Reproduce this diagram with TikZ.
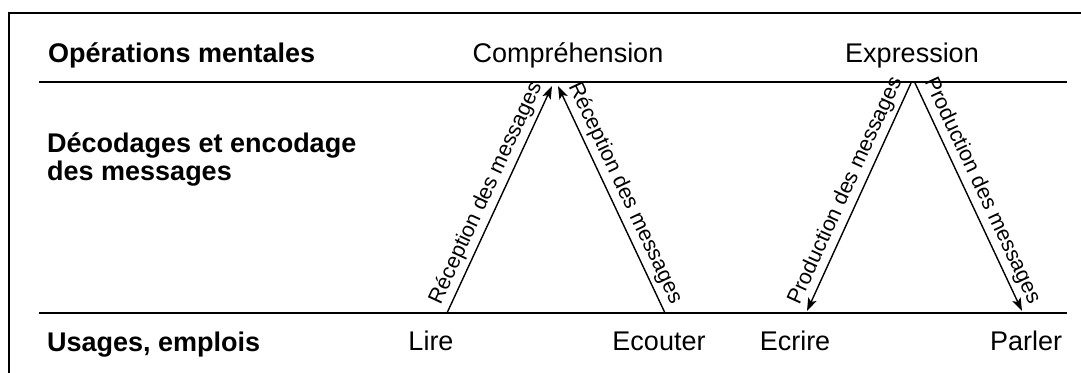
\documentclass[tikz,border=0pt]{standalone}
\usepackage{fontspec}
\setmainfont{Liberation Sans}
\usetikzlibrary{arrows.meta}
\begin{document}
\begin{tikzpicture}[x=1pt,y=-1pt,
  rule/.style={line width=2pt},
  head/.style={font=\bfseries\fontsize{27}{28}\selectfont, anchor=base west, inner sep=0pt},
  word/.style={font=\fontsize{27}{28}\selectfont, anchor=base, inner sep=0pt},
  flow/.style={line width=1.4pt, -{Stealth[length=13pt,width=9pt,inset=3pt]}},
  lab/.style={font=\fontsize{21.5}{22}\selectfont, sloped, above, midway, inner sep=4pt}]
\useasboundingbox (0,0) rectangle (1081,372);
\draw[rule] (9,380) -- (9,13) -- (1090,13);
\draw[rule] (39,82) -- (1067,82);
\draw[rule] (39,313) -- (1067,313);
% row labels
\node[head] (ops) at (48,62) {Opérations mentales};
\node[head, align=left] (dec) at (47,180) {Décodages et encodage\\des messages};
\node[head] (usa) at (47,351) {Usages, emplois};
% column words
\node[word] (comp) at (568,62) {Compréhension};
\node[word] (expr) at (912,62) {Expression};
\node[word] (lire) at (431,350) {Lire};
\node[word] (ecou) at (659,350) {Ecouter};
\node[word] (ecri) at (795,350) {Ecrire};
\node[word] (parl) at (1026,350) {Parler};
% arrow ends
\coordinate (lireA) at (447,313);
\coordinate (ecouA) at (665,313);
\coordinate (compL) at (552,86);
\coordinate (compR) at (558,86);
\coordinate (exprL) at (911,83);
\coordinate (exprR) at (915,83);
\coordinate (ecriA) at (807,311);
\coordinate (parlA) at (1022,311);
\draw[flow] (lireA) -- node[lab] {Réception des messages} (compL);
\draw[flow] (ecouA) -- node[lab] {Réception des messages} (compR);
\draw[flow] (exprL) -- node[lab] {Production des messages} (ecriA);
\draw[flow] (exprR) -- node[lab] {Production des messages} (parlA);
\end{tikzpicture}
\end{document}
